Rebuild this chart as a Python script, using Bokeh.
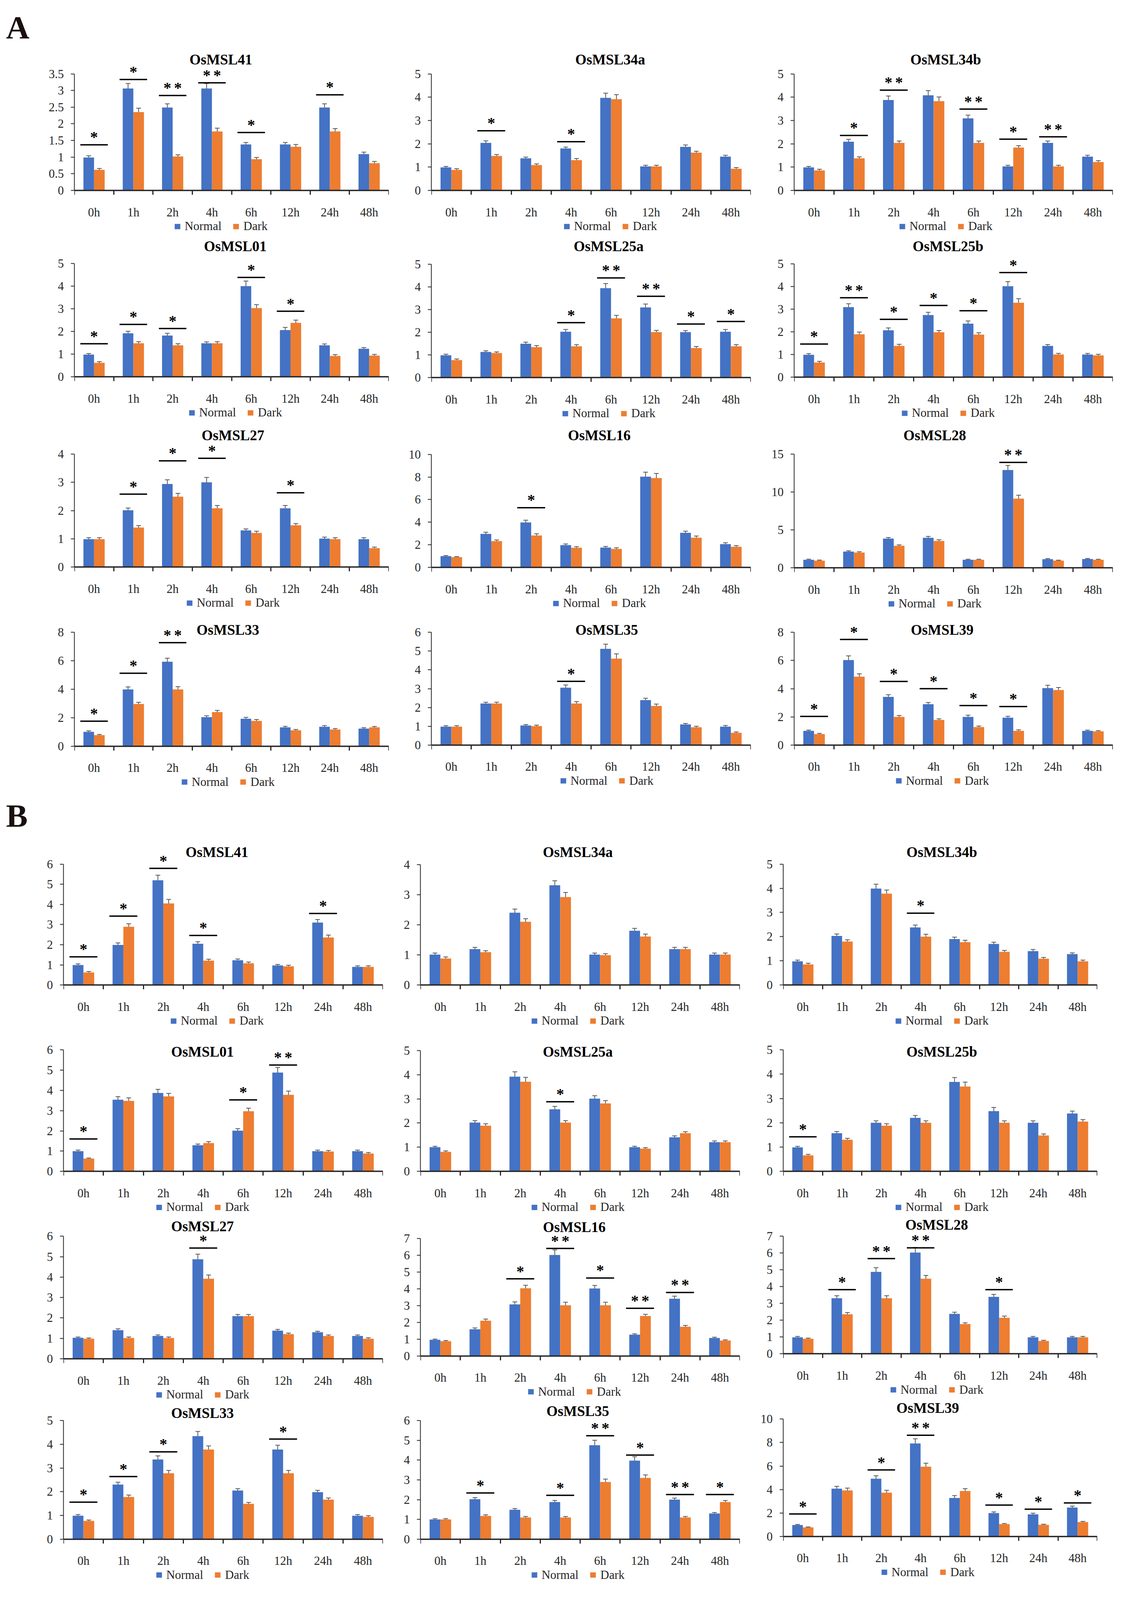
from bokeh.plotting import figure
from bokeh.models import (ColumnDataSource, FixedTicker, Whisker, TeeHead,
                          Legend, LegendItem, Label)
from bokeh.layouts import row, column
from bokeh.embed import file_html
from bokeh.resources import INLINE
from bokeh.core.properties import value

TIMES = ["0h", "1h", "2h", "4h", "6h", "12h", "24h", "48h"]
SERIES = ["Normal", "Dark"]

# significance marks: time point -> (stars, level of the bar in data units)
# ---------------- Panel A ----------------
A_MSL41_N = [0.99, 3.06, 2.49, 3.06, 1.38, 1.38, 2.49, 1.09]
A_MSL41_D = [0.62, 2.35, 1.02, 1.77, 0.94, 1.31, 1.77, 0.82]
A_MSL41_EN = [0.05, 0.15, 0.11, 0.15, 0.06, 0.06, 0.11, 0.06]
A_MSL41_ED = [0.04, 0.12, 0.05, 0.10, 0.05, 0.07, 0.09, 0.05]
A_MSL41_SIG = {"0h": ("*", 1.37), "1h": ("*", 3.33), "2h": ("**", 2.85), "4h": ("**", 3.23),
               "6h": ("*", 1.74), "24h": ("*", 2.87)}
A_MSL41_YT = [0, 0.5, 1, 1.5, 2, 2.5, 3, 3.5]

A_MSL34a_N = [0.99, 2.04, 1.38, 1.80, 3.97, 1.03, 1.87, 1.45]
A_MSL34a_D = [0.88, 1.48, 1.09, 1.30, 3.91, 1.03, 1.62, 0.93]
A_MSL34a_EN = [0.04, 0.09, 0.05, 0.06, 0.20, 0.05, 0.08, 0.06]
A_MSL34a_ED = [0.05, 0.06, 0.05, 0.07, 0.20, 0.05, 0.06, 0.05]
A_MSL34a_SIG = {"1h": ("*", 2.56), "4h": ("*", 2.09)}
A_MSL34a_YT = [0, 1, 2, 3, 4, 5]

A_MSL34b_N = [0.99, 2.09, 3.88, 4.08, 3.09, 1.03, 2.04, 1.45]
A_MSL34b_D = [0.86, 1.38, 2.04, 3.83, 2.04, 1.84, 1.03, 1.22]
A_MSL34b_EN = [0.04, 0.10, 0.17, 0.20, 0.14, 0.05, 0.08, 0.06]
A_MSL34b_ED = [0.05, 0.06, 0.08, 0.18, 0.08, 0.08, 0.05, 0.06]
A_MSL34b_SIG = {"1h": ("*", 2.36), "2h": ("**", 4.30), "6h": ("**", 3.49), "12h": ("*", 2.20),
                "24h": ("**", 2.30)}
A_MSL34b_YT = [0, 1, 2, 3, 4, 5]

A_MSL01_N = [0.98, 1.92, 1.82, 1.48, 4.00, 2.06, 1.39, 1.24]
A_MSL01_D = [0.62, 1.48, 1.39, 1.48, 3.03, 2.38, 0.92, 0.94]
A_MSL01_EN = [0.05, 0.09, 0.10, 0.06, 0.22, 0.12, 0.06, 0.05]
A_MSL01_ED = [0.05, 0.07, 0.07, 0.07, 0.15, 0.12, 0.06, 0.05]
A_MSL01_SIG = {"0h": ("*", 1.46), "1h": ("*", 2.31), "2h": ("*", 2.13), "6h": ("*", 4.38),
               "12h": ("*", 2.89)}
A_MSL01_YT = [0, 1, 2, 3, 4, 5]

A_MSL25a_N = [0.98, 1.13, 1.49, 2.02, 3.94, 3.09, 2.00, 2.02]
A_MSL25a_D = [0.77, 1.08, 1.34, 1.38, 2.61, 2.00, 1.30, 1.38]
A_MSL25a_EN = [0.05, 0.05, 0.07, 0.10, 0.20, 0.15, 0.07, 0.10]
A_MSL25a_ED = [0.05, 0.05, 0.07, 0.07, 0.13, 0.08, 0.07, 0.07]
A_MSL25a_SIG = {"4h": ("*", 2.42), "6h": ("**", 4.39), "12h": ("**", 3.58), "24h": ("*", 2.36),
                "48h": ("*", 2.47)}
A_MSL25a_YT = [0, 1, 2, 3, 4, 5]

A_MSL25b_N = [0.99, 3.09, 2.07, 2.74, 2.36, 4.01, 1.38, 1.00]
A_MSL25b_D = [0.65, 1.89, 1.38, 1.98, 1.88, 3.28, 1.00, 0.96]
A_MSL25b_EN = [0.05, 0.15, 0.10, 0.12, 0.12, 0.20, 0.06, 0.05]
A_MSL25b_ED = [0.05, 0.10, 0.07, 0.08, 0.08, 0.18, 0.05, 0.05]
A_MSL25b_SIG = {"0h": ("*", 1.46), "1h": ("**", 3.50), "2h": ("*", 2.55), "4h": ("*", 3.16),
                "6h": ("*", 2.93), "12h": ("*", 4.61)}
A_MSL25b_YT = [0, 1, 2, 3, 4, 5]

A_MSL27_N = [0.99, 2.01, 2.94, 3.00, 1.30, 2.08, 1.01, 0.99]
A_MSL27_D = [0.99, 1.40, 2.49, 2.08, 1.21, 1.48, 0.99, 0.67]
A_MSL27_EN = [0.05, 0.08, 0.15, 0.17, 0.05, 0.10, 0.05, 0.05]
A_MSL27_ED = [0.05, 0.07, 0.12, 0.10, 0.06, 0.06, 0.05, 0.04]
A_MSL27_SIG = {"1h": ("*", 2.58), "2h": ("*", 3.76), "4h": ("*", 3.85), "12h": ("*", 2.63)}
A_MSL27_YT = [0, 1, 2, 3, 4]

A_MSL16_N = [1.00, 2.97, 3.98, 1.98, 1.76, 8.03, 3.06, 2.06]
A_MSL16_D = [0.91, 2.33, 2.83, 1.74, 1.64, 7.91, 2.63, 1.83]
A_MSL16_EN = [0.05, 0.15, 0.20, 0.10, 0.10, 0.40, 0.15, 0.12]
A_MSL16_ED = [0.05, 0.10, 0.15, 0.10, 0.10, 0.40, 0.15, 0.10]
A_MSL16_SIG = {"2h": ("*", 5.28)}
A_MSL16_YT = [0, 2, 4, 6, 8, 10]

A_MSL28_N = [1.06, 2.14, 3.85, 3.96, 1.06, 12.89, 1.14, 1.16]
A_MSL28_D = [0.95, 2.02, 2.90, 3.55, 1.06, 9.12, 0.95, 1.06]
A_MSL28_EN = [0.08, 0.10, 0.15, 0.18, 0.07, 0.60, 0.07, 0.07]
A_MSL28_ED = [0.07, 0.10, 0.12, 0.15, 0.07, 0.45, 0.06, 0.06]
A_MSL28_SIG = {"12h": ("**", 13.9)}
A_MSL28_YT = [0, 5, 10, 15]

A_MSL33_N = [1.00, 3.98, 5.93, 2.03, 1.92, 1.32, 1.36, 1.23]
A_MSL33_D = [0.77, 2.96, 3.98, 2.39, 1.77, 1.11, 1.17, 1.32]
A_MSL33_EN = [0.07, 0.18, 0.25, 0.10, 0.10, 0.07, 0.08, 0.06]
A_MSL33_ED = [0.05, 0.12, 0.20, 0.12, 0.10, 0.06, 0.06, 0.06]
A_MSL33_SIG = {"0h": ("*", 1.75), "1h": ("*", 5.12), "2h": ("**", 7.27)}
A_MSL33_YT = [0, 2, 4, 6, 8]

A_MSL35_N = [0.98, 2.21, 1.04, 3.05, 5.12, 2.39, 1.10, 0.98]
A_MSL35_D = [0.98, 2.21, 1.01, 2.21, 4.60, 2.08, 0.95, 0.65]
A_MSL35_EN = [0.05, 0.07, 0.05, 0.15, 0.25, 0.10, 0.05, 0.06]
A_MSL35_ED = [0.05, 0.07, 0.05, 0.10, 0.25, 0.10, 0.05, 0.05]
A_MSL35_SIG = {"4h": ("*", 3.39)}
A_MSL35_YT = [0, 1, 2, 3, 4, 5, 6]

A_MSL39_N = [1.01, 6.03, 3.42, 2.90, 2.00, 1.94, 4.04, 1.01]
A_MSL39_D = [0.78, 4.85, 2.00, 1.78, 1.28, 1.01, 3.90, 0.97]
A_MSL39_EN = [0.05, 0.30, 0.15, 0.12, 0.12, 0.10, 0.20, 0.05]
A_MSL39_ED = [0.05, 0.20, 0.10, 0.08, 0.07, 0.07, 0.18, 0.05]
A_MSL39_SIG = {"0h": ("*", 2.03), "1h": ("*", 7.49), "2h": ("*", 4.51), "4h": ("*", 4.00),
               "6h": ("*", 2.80), "12h": ("*", 2.73)}
A_MSL39_YT = [0, 2, 4, 6, 8]

# ---------------- Panel B ----------------
B_MSL41_N = [0.99, 1.99, 5.20, 2.05, 1.23, 0.97, 3.10, 0.90]
B_MSL41_D = [0.62, 2.89, 4.05, 1.21, 1.08, 0.93, 2.36, 0.90]
B_MSL41_EN = [0.06, 0.10, 0.25, 0.10, 0.06, 0.05, 0.15, 0.05]
B_MSL41_ED = [0.05, 0.15, 0.20, 0.07, 0.06, 0.05, 0.12, 0.05]
B_MSL41_SIG = {"0h": ("*", 1.40), "1h": ("*", 3.42), "2h": ("*", 5.79), "4h": ("*", 2.46),
               "24h": ("*", 3.55)}
B_MSL41_YT = [0, 1, 2, 3, 4, 5, 6]

B_MSL34a_N = [1.01, 1.19, 2.40, 3.31, 1.01, 1.80, 1.19, 1.01]
B_MSL34a_D = [0.88, 1.09, 2.10, 2.92, 0.99, 1.61, 1.19, 1.01]
B_MSL34a_EN = [0.05, 0.06, 0.12, 0.15, 0.05, 0.08, 0.06, 0.05]
B_MSL34a_ED = [0.05, 0.05, 0.10, 0.15, 0.05, 0.08, 0.06, 0.05]
B_MSL34a_SIG = {}
B_MSL34a_YT = [0, 1, 2, 3, 4]

B_MSL34b_N = [0.98, 2.03, 3.99, 2.38, 1.90, 1.70, 1.40, 1.28]
B_MSL34b_D = [0.85, 1.80, 3.78, 2.00, 1.77, 1.37, 1.09, 0.98]
B_MSL34b_EN = [0.05, 0.08, 0.18, 0.10, 0.08, 0.07, 0.07, 0.05]
B_MSL34b_ED = [0.05, 0.07, 0.15, 0.10, 0.08, 0.06, 0.05, 0.05]
B_MSL34b_SIG = {"4h": ("*", 2.97)}
B_MSL34b_YT = [0, 1, 2, 3, 4, 5]

B_MSL01_N = [1.00, 3.54, 3.87, 1.29, 2.01, 4.88, 1.00, 1.00]
B_MSL01_D = [0.63, 3.48, 3.70, 1.40, 2.97, 3.78, 0.98, 0.88]
B_MSL01_EN = [0.05, 0.15, 0.18, 0.06, 0.10, 0.25, 0.05, 0.05]
B_MSL01_ED = [0.03, 0.15, 0.15, 0.07, 0.15, 0.18, 0.05, 0.05]
B_MSL01_SIG = {"0h": ("*", 1.60), "6h": ("*", 3.53), "12h": ("**", 5.25)}
B_MSL01_YT = [0, 1, 2, 3, 4, 5, 6]

B_MSL25a_N = [1.00, 2.02, 3.92, 2.57, 3.01, 1.00, 1.41, 1.21]
B_MSL25a_D = [0.81, 1.89, 3.71, 2.02, 2.81, 0.94, 1.58, 1.21]
B_MSL25a_EN = [0.04, 0.08, 0.20, 0.12, 0.12, 0.04, 0.06, 0.05]
B_MSL25a_ED = [0.04, 0.08, 0.18, 0.08, 0.12, 0.04, 0.06, 0.05]
B_MSL25a_SIG = {"4h": ("*", 2.88)}
B_MSL25a_YT = [0, 1, 2, 3, 4, 5]

B_MSL25b_N = [0.99, 1.57, 2.00, 2.20, 3.68, 2.48, 2.00, 2.38]
B_MSL25b_D = [0.66, 1.30, 1.88, 2.00, 3.49, 2.00, 1.48, 2.05]
B_MSL25b_EN = [0.04, 0.07, 0.08, 0.10, 0.18, 0.15, 0.08, 0.10]
B_MSL25b_ED = [0.04, 0.06, 0.08, 0.08, 0.18, 0.08, 0.06, 0.08]
B_MSL25b_SIG = {"0h": ("*", 1.42)}
B_MSL25b_YT = [0, 1, 2, 3, 4, 5]

B_MSL27_N = [1.03, 1.40, 1.12, 4.87, 2.09, 1.38, 1.30, 1.12]
B_MSL27_D = [0.98, 1.02, 1.02, 3.92, 2.09, 1.21, 1.12, 0.98]
B_MSL27_EN = [0.04, 0.07, 0.05, 0.25, 0.08, 0.06, 0.05, 0.05]
B_MSL27_ED = [0.04, 0.05, 0.05, 0.18, 0.08, 0.05, 0.05, 0.05]
B_MSL27_SIG = {"4h": ("*", 5.42)}
B_MSL27_YT = [0, 1, 2, 3, 4, 5, 6]

B_MSL16_N = [0.97, 1.59, 3.07, 6.01, 4.02, 1.27, 3.41, 1.07]
B_MSL16_D = [0.88, 2.10, 4.03, 3.02, 3.02, 2.38, 1.74, 0.92]
B_MSL16_EN = [0.04, 0.08, 0.15, 0.30, 0.18, 0.05, 0.15, 0.05]
B_MSL16_ED = [0.04, 0.10, 0.18, 0.18, 0.18, 0.10, 0.08, 0.04]
B_MSL16_SIG = {"2h": ("*", 4.59), "4h": ("**", 6.40), "6h": ("*", 4.64), "12h": ("**", 2.84),
               "24h": ("**", 3.78)}
B_MSL16_YT = [0, 1, 2, 3, 4, 5, 6, 7]

B_MSL28_N = [0.99, 3.31, 4.88, 6.03, 2.38, 3.39, 0.99, 0.99]
B_MSL28_D = [0.90, 2.36, 3.31, 4.47, 1.78, 2.15, 0.77, 0.99]
B_MSL28_EN = [0.05, 0.15, 0.25, 0.30, 0.10, 0.15, 0.05, 0.05]
B_MSL28_ED = [0.04, 0.10, 0.15, 0.20, 0.07, 0.10, 0.04, 0.05]
B_MSL28_SIG = {"1h": ("*", 3.82), "2h": ("**", 5.67), "4h": ("**", 6.31), "12h": ("*", 3.82)}
B_MSL28_YT = [0, 1, 2, 3, 4, 5, 6, 7]

B_MSL33_N = [0.99, 2.30, 3.36, 4.34, 2.05, 3.78, 1.98, 0.99]
B_MSL33_D = [0.77, 1.78, 2.78, 3.78, 1.49, 2.78, 1.67, 0.94]
B_MSL33_EN = [0.05, 0.10, 0.15, 0.20, 0.08, 0.18, 0.08, 0.05]
B_MSL33_ED = [0.04, 0.08, 0.12, 0.15, 0.06, 0.12, 0.07, 0.05]
B_MSL33_SIG = {"0h": ("*", 1.56), "1h": ("*", 2.64), "2h": ("*", 3.68), "12h": ("*", 4.22)}
B_MSL33_YT = [0, 1, 2, 3, 4, 5]

B_MSL35_N = [1.00, 2.02, 1.49, 1.88, 4.75, 3.97, 2.00, 1.30]
B_MSL35_D = [1.00, 1.18, 1.10, 1.10, 2.89, 3.10, 1.10, 1.88]
B_MSL35_EN = [0.04, 0.08, 0.06, 0.08, 0.25, 0.20, 0.08, 0.05]
B_MSL35_ED = [0.04, 0.05, 0.05, 0.05, 0.15, 0.15, 0.05, 0.08]
B_MSL35_SIG = {"1h": ("*", 2.34), "4h": ("*", 2.22), "6h": ("**", 5.23), "12h": ("*", 4.25),
               "24h": ("**", 2.26), "48h": ("*", 2.26)}
B_MSL35_YT = [0, 1, 2, 3, 4, 5, 6]

B_MSL39_N = [0.97, 4.07, 4.92, 7.92, 3.28, 1.99, 1.88, 2.46]
B_MSL39_D = [0.77, 3.92, 3.73, 5.94, 3.87, 1.05, 0.99, 1.22]
B_MSL39_EN = [0.05, 0.20, 0.25, 0.40, 0.20, 0.10, 0.10, 0.12]
B_MSL39_ED = [0.04, 0.20, 0.20, 0.30, 0.20, 0.05, 0.05, 0.06]
B_MSL39_SIG = {"0h": ("*", 1.91), "2h": ("*", 5.67), "4h": ("**", 8.62), "12h": ("*", 2.67),
               "24h": ("*", 2.32), "48h": ("*", 2.85)}
B_MSL39_YT = [0, 2, 4, 6, 8, 10]

PANEL_A = [
    ("OsMSL41", A_MSL41_N, A_MSL41_D, A_MSL41_EN, A_MSL41_ED, A_MSL41_SIG, A_MSL41_YT),
    ("OsMSL34a", A_MSL34a_N, A_MSL34a_D, A_MSL34a_EN, A_MSL34a_ED, A_MSL34a_SIG, A_MSL34a_YT),
    ("OsMSL34b", A_MSL34b_N, A_MSL34b_D, A_MSL34b_EN, A_MSL34b_ED, A_MSL34b_SIG, A_MSL34b_YT),
    ("OsMSL01", A_MSL01_N, A_MSL01_D, A_MSL01_EN, A_MSL01_ED, A_MSL01_SIG, A_MSL01_YT),
    ("OsMSL25a", A_MSL25a_N, A_MSL25a_D, A_MSL25a_EN, A_MSL25a_ED, A_MSL25a_SIG, A_MSL25a_YT),
    ("OsMSL25b", A_MSL25b_N, A_MSL25b_D, A_MSL25b_EN, A_MSL25b_ED, A_MSL25b_SIG, A_MSL25b_YT),
    ("OsMSL27", A_MSL27_N, A_MSL27_D, A_MSL27_EN, A_MSL27_ED, A_MSL27_SIG, A_MSL27_YT),
    ("OsMSL16", A_MSL16_N, A_MSL16_D, A_MSL16_EN, A_MSL16_ED, A_MSL16_SIG, A_MSL16_YT),
    ("OsMSL28", A_MSL28_N, A_MSL28_D, A_MSL28_EN, A_MSL28_ED, A_MSL28_SIG, A_MSL28_YT),
    ("OsMSL33", A_MSL33_N, A_MSL33_D, A_MSL33_EN, A_MSL33_ED, A_MSL33_SIG, A_MSL33_YT),
    ("OsMSL35", A_MSL35_N, A_MSL35_D, A_MSL35_EN, A_MSL35_ED, A_MSL35_SIG, A_MSL35_YT),
    ("OsMSL39", A_MSL39_N, A_MSL39_D, A_MSL39_EN, A_MSL39_ED, A_MSL39_SIG, A_MSL39_YT),
]
PANEL_B = [
    ("OsMSL41", B_MSL41_N, B_MSL41_D, B_MSL41_EN, B_MSL41_ED, B_MSL41_SIG, B_MSL41_YT),
    ("OsMSL34a", B_MSL34a_N, B_MSL34a_D, B_MSL34a_EN, B_MSL34a_ED, B_MSL34a_SIG, B_MSL34a_YT),
    ("OsMSL34b", B_MSL34b_N, B_MSL34b_D, B_MSL34b_EN, B_MSL34b_ED, B_MSL34b_SIG, B_MSL34b_YT),
    ("OsMSL01", B_MSL01_N, B_MSL01_D, B_MSL01_EN, B_MSL01_ED, B_MSL01_SIG, B_MSL01_YT),
    ("OsMSL25a", B_MSL25a_N, B_MSL25a_D, B_MSL25a_EN, B_MSL25a_ED, B_MSL25a_SIG, B_MSL25a_YT),
    ("OsMSL25b", B_MSL25b_N, B_MSL25b_D, B_MSL25b_EN, B_MSL25b_ED, B_MSL25b_SIG, B_MSL25b_YT),
    ("OsMSL27", B_MSL27_N, B_MSL27_D, B_MSL27_EN, B_MSL27_ED, B_MSL27_SIG, B_MSL27_YT),
    ("OsMSL16", B_MSL16_N, B_MSL16_D, B_MSL16_EN, B_MSL16_ED, B_MSL16_SIG, B_MSL16_YT),
    ("OsMSL28", B_MSL28_N, B_MSL28_D, B_MSL28_EN, B_MSL28_ED, B_MSL28_SIG, B_MSL28_YT),
    ("OsMSL33", B_MSL33_N, B_MSL33_D, B_MSL33_EN, B_MSL33_ED, B_MSL33_SIG, B_MSL33_YT),
    ("OsMSL35", B_MSL35_N, B_MSL35_D, B_MSL35_EN, B_MSL35_ED, B_MSL35_SIG, B_MSL35_YT),
    ("OsMSL39", B_MSL39_N, B_MSL39_D, B_MSL39_EN, B_MSL39_ED, B_MSL39_SIG, B_MSL39_YT),
]

# ---------------- styling / layout (page pixel geometry) ----------------
BLUE = "#4472C4"
ORANGE = "#ED7D31"
INK = "#262626"
FONT = "Liberation Serif"

# The captured viewport is shorter than the nominal window, so the reference
# geometry (measured on the 4537 px tall original) is squeezed vertically.
VS = 0.902


def Y(y):
    return 8 + (y - 8) * VS


def px(v):
    return f"{round(v * VS)}px"


COLS_A = [(8, 1040), (1040, 1968), (1968, 2888)]
COLS_B = [(8, 1030), (1030, 1940), (1940, 2888)]
# vertical cell boundaries per column (reference page px)
BOUNDS_A = [[140, 677, 1210, 1756, 2262], [140, 677, 1211, 1756, 2262], [140, 677, 1210, 1757, 2262]]
BOUNDS_B = [[2385, 2948, 3460, 3991, 4527], [2385, 2948, 3461, 3984, 4527], [2385, 2948, 3458, 3977, 4527]]
# (frame_left, frame_right, top_tick_y, zero_y, title_x, title_y) in reference page px
GEO_A = [
    (198, 1003, 217, 548, 573, 176), (1093, 1930, 217, 548, 1551, 176), (2022, 2857, 217, 548, 2410, 176),
    (170, 1003, 755, 1077, 582, 707), (1097, 1930, 757, 1079, 1551, 706), (2022, 2857, 756, 1078, 2416, 706),
    (170, 1003, 1296, 1617, 576, 1243), (1112, 1930, 1297, 1618, 1542, 1243), (2041, 2857, 1296, 1619, 2401, 1243),
    (170, 1003, 1802, 2125, 563, 1795), (1093, 1930, 1802, 2122, 1542, 1795), (2022, 2857, 1802, 2122, 2401, 1795),
]
GEO_B = [
    (170, 988, 2460, 2803, 563, 2426), (1084, 1902, 2461, 2803, 1487, 2426), (1995, 2817, 2460, 2803, 2401, 2426),
    (170, 988, 2987, 3332, 526, 2993), (1084, 1902, 2989, 3332, 1487, 2993), (1995, 2817, 2987, 3332, 2401, 2993),
    (170, 988, 3516, 3864, 526, 3488), (1084, 1902, 3522, 3856, 1478, 3490), (1995, 2817, 3516, 3850, 2388, 3484),
    (170, 988, 4039, 4376, 526, 4018), (1084, 1902, 4039, 4376, 1487, 4012), (2013, 2817, 4035, 4368, 2383, 4004),
]
LEGEND_DROP = 104     # legend centre below the zero line (reference px)
LEGEND_HALF_H = 18
LEGEND_FS = round(34 * VS)
LEGEND_HALF_W = (18 + 10 + 28 + 18 + 10 + 5.055 * LEGEND_FS) / 2


def make_cell(spec, geo, colbox, top_ref, bottom_ref):
    name, normal, dark, err_n, err_d, sig, yticks = spec
    fl, fr, ytop, yzero, tx, ty = geo
    fx0, fx1 = colbox
    top, bottom = round(Y(top_ref)), round(Y(bottom_ref))
    ytop, yzero, ty = Y(ytop), Y(yzero), Y(ty)
    W, H = fx1 - fx0, bottom - top
    ymax = yticks[-1]
    ppu = (yzero - ytop) / ymax
    y_end = (yzero - top) / ppu
    y_start = -(bottom - yzero) / ppu
    n = len(TIMES)

    p = figure(width=W, height=H, x_range=(0, n), y_range=(y_start, y_end),
               output_backend="svg", toolbar_location=None, title=None,
               min_border_left=fl - fx0, min_border_right=fx1 - fr,
               min_border_top=0, min_border_bottom=0)
    p.outline_line_color = None
    p.xgrid.visible = False
    p.ygrid.visible = False

    src = ColumnDataSource(dict(
        xn=[i + 0.365 for i in range(n)], xd=[i + 0.635 for i in range(n)],
        n=normal, d=dark,
        nlo=[v - e for v, e in zip(normal, err_n)], nhi=[v + e for v, e in zip(normal, err_n)],
        dlo=[v - e for v, e in zip(dark, err_d)], dhi=[v + e for v, e in zip(dark, err_d)],
    ))
    rn = p.vbar(x="xn", top="n", bottom=0, width=0.27, fill_color=BLUE, line_color=None, source=src)
    rd = p.vbar(x="xd", top="d", bottom=0, width=0.27, fill_color=ORANGE, line_color=None, source=src)
    for base, lo, hi in (("xn", "nlo", "nhi"), ("xd", "dlo", "dhi")):
        p.add_layout(Whisker(source=src, base=base, lower=lo, upper=hi,
                             line_color="#595959", line_width=2,
                             upper_head=TeeHead(size=12, line_color="#595959", line_width=2),
                             lower_head=TeeHead(size=12, line_color="#595959", line_width=2)))

    if sig:
        x0s, x1s, ys = [], [], []
        sx, sy, so = [], [], []
        for tp, (stars, lvl) in sig.items():
            i = TIMES.index(tp)
            x0s.append(i + 0.15)
            x1s.append(i + 0.85)
            ys.append(lvl)
            k = len(stars)
            for j in range(k):
                sx.append(i + 0.5)
                sy.append(lvl)
                so.append((j - (k - 1) / 2) * 27)
        p.segment(x0=x0s, y0=ys, x1=x1s, y1=ys, line_color="black", line_width=3.5)
        p.text(x=sx, y=sy, text=["*"] * len(sx), x_offset=so, y_offset=-22 * VS,
               text_font=value(FONT), text_font_style="bold", text_font_size=px(44),
               text_align="center", text_baseline="middle", text_color="black")

    ya = p.yaxis[0]
    ya.ticker = FixedTicker(ticks=yticks)
    ya.bounds = (0, ymax)
    ya.major_label_overrides = {t: f"{t:g}" for t in yticks}
    ya.axis_line_color = INK
    ya.axis_line_width = 2
    ya.major_tick_out = 9
    ya.major_tick_in = 0
    ya.major_tick_line_width = 2
    ya.major_tick_line_color = INK
    ya.minor_tick_line_color = None
    ya.major_label_text_font = FONT
    ya.major_label_text_font_size = px(34)
    ya.major_label_text_color = INK
    ya.major_label_standoff = 18

    xa = p.xaxis[0]
    xa.fixed_location = 0
    xa.ticker = FixedTicker(ticks=[i + 0.5 for i in range(n)], minor_ticks=list(range(n + 1)))
    xa.major_label_overrides = {i + 0.5: t for i, t in enumerate(TIMES)}
    xa.axis_line_color = INK
    xa.axis_line_width = 3.5
    xa.major_tick_line_color = None
    xa.major_tick_out = 0
    xa.major_tick_in = 0
    xa.minor_tick_out = 11
    xa.minor_tick_in = 0
    xa.minor_tick_line_width = 3
    xa.minor_tick_line_color = INK
    xa.major_label_text_font = FONT
    xa.major_label_text_font_size = px(34)
    xa.major_label_text_color = INK
    xa.major_label_standoff = round(30 * VS)

    leg_cy = yzero + LEGEND_DROP * VS
    leg = Legend(items=[LegendItem(label=SERIES[0], renderers=[rn]),
                        LegendItem(label=SERIES[1], renderers=[rd])],
                 orientation="horizontal",
                 location=(tx - fl - LEGEND_HALF_W, (bottom - leg_cy) - LEGEND_HALF_H * VS),
                 label_text_font=FONT, label_text_font_size=f"{LEGEND_FS}px", label_text_color=INK,
                 glyph_width=18, glyph_height=17, label_standoff=10, spacing=28,
                 border_line_color=None, background_fill_alpha=0, padding=0, margin=0)
    p.add_layout(leg)

    p.add_layout(Label(x=tx - fl, y=bottom - ty, x_units="screen", y_units="screen",
                       text=name, text_align="center", text_baseline="middle",
                       text_font=FONT, text_font_style="bold", text_font_size=px(41),
                       text_color="black"))
    return p


def header(letter, top_ref, bottom_ref, glyph_top_ref):
    top, bottom = round(Y(top_ref)), round(Y(bottom_ref))
    height = bottom - top
    p = figure(width=2880, height=height, x_range=(0, 1), y_range=(0, 1),
               x_axis_location=None, y_axis_location=None, toolbar_location=None,
               output_backend="svg", title=None, min_border=0)
    p.outline_line_color = None
    p.grid.visible = False
    p.add_layout(Label(x=15, y=bottom - Y(glyph_top_ref), x_units="screen", y_units="screen",
                       text=letter, text_font=FONT, text_font_style="bold",
                       text_font_size=px(92), text_baseline="top", text_align="left",
                       text_color="#1a1010"))
    return p


def panel(specs, geos, cols, bounds):
    columns = []
    for c in range(3):
        b = bounds[c]
        cells = [make_cell(specs[3 * r + c], geos[3 * r + c], cols[c], b[r], b[r + 1])
                 for r in range(4)]
        columns.append(column(*cells))
    return row(*columns)


layout = column(
    header("A", 8, 140, 34),
    panel(PANEL_A, GEO_A, COLS_A, BOUNDS_A),
    header("B", 2262, 2385, 2271),
    panel(PANEL_B, GEO_B, COLS_B, BOUNDS_B),
)
open("out.html", "w").write(file_html(layout, INLINE))
